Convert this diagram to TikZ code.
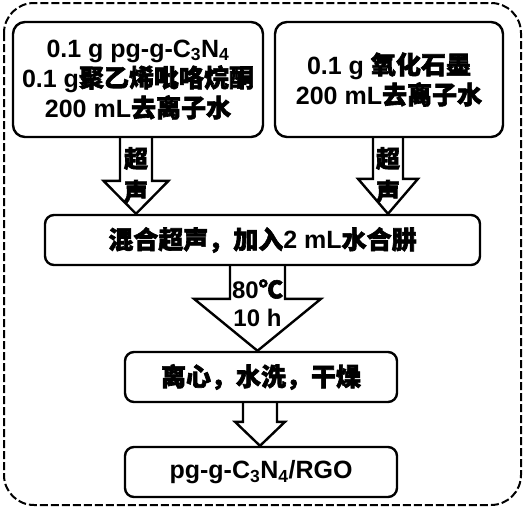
\documentclass[tikz,border=0pt]{standalone}
\usepackage{fontspec}
\setmainfont{Liberation Sans}
\newfontfamily\cjk{Noto Sans CJK SC}[FakeBold=2.5]
\newcommand{\zh}[1]{{\cjk #1}}
\usetikzlibrary{calc}

% block arrow: from node, to node, x, shaft half width, head half width, head length
\newcommand{\fatarrow}[6]{%
  \draw[fat] let \p1=(#1.south), \p2=(#2.north) in
    ({#3-#4},\y1) -- ({#3-#4},{\y2+#6pt}) -- ({#3-#5},{\y2+#6pt}) -- (#3,\y2)
    -- ({#3+#5},{\y2+#6pt}) -- ({#3+#4},{\y2+#6pt}) -- ({#3+#4},\y1);
}

\begin{document}
\begin{tikzpicture}[x=1pt, y=-1pt, font=\bfseries\fontsize{25}{30}\selectfont]
	\tikzstyle{stepbox} = [draw, line width=2.4pt, rounded corners=12pt, align=center, inner sep=0pt]
	\tikzstyle{fat} = [draw, line width=2.4pt, line join=miter]
	\tikzstyle{tag} = [align=center, inner sep=0pt]
	\useasboundingbox (0,0) rectangle (525,512);

	% dashed frame
	\draw[line width=2pt, dash pattern=on 8pt off 3pt, rounded corners=30pt] (4,3) rectangle (521,505);

	\node[stepbox, minimum width=250pt, minimum height=115pt] (pg) at (138,79.5)
		{0.1 g pg-g-C\textsubscript{3}N\textsubscript{4}\\0.1 g\zh{聚乙烯吡咯烷酮}\\200 mL\zh{去离子水}};
	\node[stepbox, minimum width=228pt, minimum height=115pt] (go) at (389,79.5)
		{0.1 g \zh{氧化石墨}\\200 mL\zh{去离子水}};
	\node[stepbox, rounded corners=9pt, minimum width=435pt, minimum height=50pt] (mix) at (262.5,240)
		{\zh{混合超声，加入}2 mL\zh{水合肼}};
	\node[stepbox, rounded corners=9pt, minimum width=272pt, minimum height=50pt] (wash) at (261,377)
		{\zh{离心，水洗，干燥}};
	\node[stepbox, rounded corners=9pt, minimum width=272pt, minimum height=50pt] (prod) at (261,472)
		{pg-g-C\textsubscript{3}N\textsubscript{4}/RGO};

	\fatarrow{pg}{mix}{136}{16}{32.5}{33}
	\fatarrow{go}{mix}{388}{15}{30}{35}
	\fatarrow{mix}{wash}{257.5}{27.5}{63.5}{52}
	\fatarrow{wash}{prod}{260}{17}{25}{24}

	\node[tag, font=\bfseries\fontsize{24}{33}\selectfont] (us1) at (136,175) {\zh{超}\\\zh{声}};
	\node[tag, font=\bfseries\fontsize{24}{33}\selectfont] (us2) at (388,175) {\zh{超}\\\zh{声}};
	\node[tag, font=\bfseries\fontsize{24}{28}\selectfont] (heat) at (257.5,303) {80\zh{℃}\\10 h};
\end{tikzpicture}
\end{document}
